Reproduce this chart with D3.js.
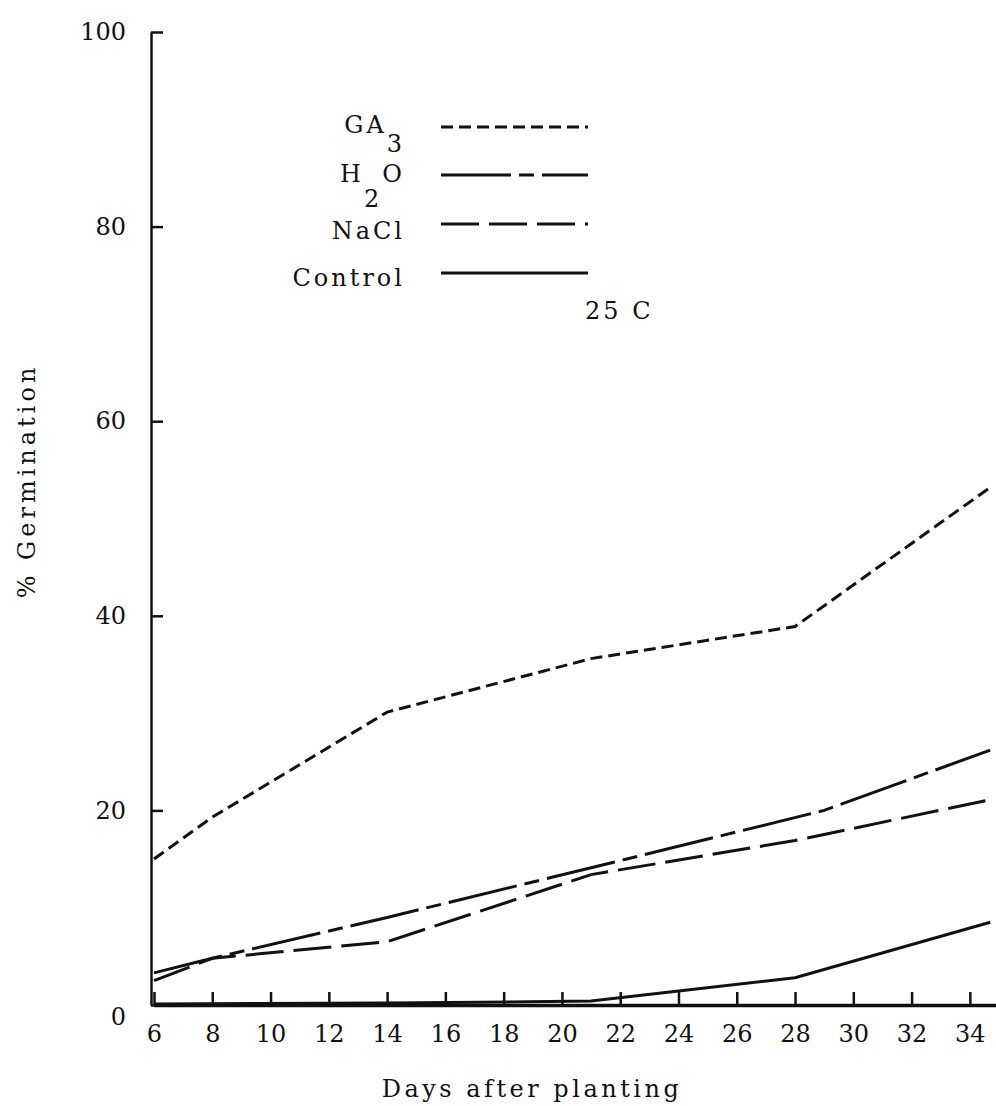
<!DOCTYPE html>
<html>
<head>
<meta charset="utf-8">
<script src="https://cdn.jsdelivr.net/npm/d3@7"></script>
<style>
  body { margin: 0; background: #fff; }
  text { font-family: "DejaVu Serif", serif; fill: #111; }
</style>
</head>
<body>
<div id="vis1"></div>
<script>
const FRAME_WIDTH = 996;
const FRAME_HEIGHT = 1106;

// values (% germination by day after planting)
const gaDays = [6, 8, 14, 21, 28, 34.7];
const gaVals = [15.0, 19.3, 30.1, 35.6, 38.9, 53.2];
const h2oDays = [6, 8, 14, 21, 29, 34.7];
const h2oVals = [3.3, 4.8, 9.0, 14.1, 20.0, 26.2];
const naclDays = [6, 8, 14, 21, 28, 34.7];
const naclVals = [2.5, 4.8, 6.5, 13.4, 16.9, 21.1];
const ctrlDays = [6, 14, 21, 28, 34.7];
const ctrlVals = [0.1, 0.2, 0.4, 2.8, 8.5];

const xTicks = [6, 8, 10, 12, 14, 16, 18, 20, 22, 24, 26, 28, 30, 32, 34];
const yTicks = [0, 20, 40, 60, 80, 100];

const FRAME = d3.select("#vis1")
                  .append("svg")
                    .attr("width", FRAME_WIDTH)
                    .attr("height", FRAME_HEIGHT);

FRAME.append("rect")
      .attr("width", FRAME_WIDTH)
      .attr("height", FRAME_HEIGHT)
      .attr("fill", "#fff");

const X_SCALE = d3.scaleLinear().domain([6, 35]).range([154, 999]);
const Y_SCALE = d3.scaleLinear().domain([0, 100]).range([1005, 32]);

// y axis, ticks point inwards
const yAxis = FRAME.append("g")
      .attr("transform", "translate(151,0)")
      .call(d3.axisLeft(Y_SCALE).tickValues(yTicks)
              .tickSizeInner(-12).tickSizeOuter(0).tickPadding(25));
yAxis.select(".domain").attr("stroke", "#111").attr("stroke-width", 2.5);
yAxis.selectAll(".tick line").attr("stroke", "#111").attr("stroke-width", 2.5);
yAxis.selectAll(".tick text")
      .attr("font-size", 24)
      .attr("font-family", "DejaVu Serif")
      .attr("fill", "#111")
      .attr("dy", (d) => d === 0 ? "0.8em" : "0.32em");

// x axis, ticks point up
const xAxis = FRAME.append("g")
      .attr("transform", "translate(0," + Y_SCALE(0) + ")")
      .call(d3.axisBottom(X_SCALE).tickValues(xTicks)
              .tickSizeInner(-13).tickSizeOuter(0).tickPadding(20));
xAxis.select(".domain").attr("stroke", "#111").attr("stroke-width", 3.5);
xAxis.selectAll(".tick line").attr("stroke", "#111").attr("stroke-width", 2.5);
xAxis.selectAll(".tick text")
      .attr("font-size", 24)
      .attr("font-family", "DejaVu Serif")
      .attr("fill", "#111");

const line = d3.line()
      .x((d) => X_SCALE(d[0]))
      .y((d) => Y_SCALE(d[1]));

const series = [
  {days: gaDays, vals: gaVals, dash: "12,6"},
  {days: h2oDays, vals: h2oVals, dash: "70,8,15,8"},
  {days: naclDays, vals: naclVals, dash: "38,10"},
  {days: ctrlDays, vals: ctrlVals, dash: null}
];

FRAME.selectAll(".series")
      .data(series)
      .enter()
      .append("path")
        .attr("class", "series")
        .attr("d", (s) => line(s.days.map((d, i) => [d, s.vals[i]])))
        .attr("fill", "none")
        .attr("stroke", "#111")
        .attr("stroke-width", 3)
        .attr("stroke-dasharray", (s) => s.dash);

// legend
const legendY = [127, 175, 224, 273];
const legend = FRAME.append("g");
legend.selectAll("line")
      .data(series)
      .enter()
      .append("line")
        .attr("x1", 441)
        .attr("x2", 588)
        .attr("y1", (s, i) => legendY[i])
        .attr("y2", (s, i) => legendY[i])
        .attr("stroke", "#111")
        .attr("stroke-width", 3)
        .attr("stroke-dasharray", (s) => s.dash);

function legendText(y) {
  return legend.append("text")
      .attr("x", 405)
      .attr("y", y)
      .attr("font-size", 24)
      .attr("letter-spacing", 3)
      .attr("text-anchor", "end");
}
const ga = legendText(133);
ga.append("tspan").text("GA");
ga.append("tspan").attr("dy", 19).text("3");
const h2o = legendText(182);
h2o.append("tspan").text("H");
h2o.append("tspan").attr("dy", 25).text("2");
h2o.append("tspan").attr("dy", -25).text("O");
legendText(239).text("NaCl");
legendText(286).text("Control");

FRAME.append("text")
      .attr("x", 585)
      .attr("y", 319)
      .attr("font-size", 24)
      .attr("letter-spacing", 3)
      .text("25 C");

// axis titles
FRAME.append("text")
      .attr("x", 532)
      .attr("y", 1097)
      .attr("text-anchor", "middle")
      .attr("font-size", 24)
      .attr("letter-spacing", 3.5)
      .text("Days after planting");

FRAME.append("text")
      .attr("transform", "translate(35,481) rotate(-90)")
      .attr("text-anchor", "middle")
      .attr("font-size", 24)
      .attr("letter-spacing", 4)
      .text("% Germination");
</script>
</body>
</html>
